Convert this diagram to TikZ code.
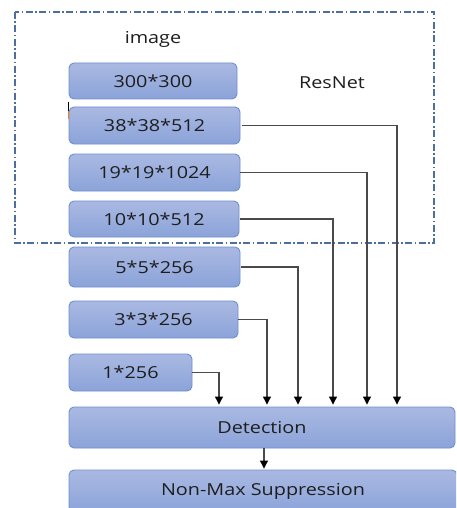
\documentclass[tikz,border=0pt]{standalone}
\usepackage{fontspec}
\setmainfont{Open Sans}[FakeStretch=1.2]
\usetikzlibrary{arrows.meta,calc}
\definecolor{boxtop}{HTML}{AAB9E2}
\definecolor{boxbot}{HTML}{8BA3D9}
\definecolor{boxline}{HTML}{6F8FD2}
\definecolor{dashc}{HTML}{4D6E9E}
\definecolor{linec}{HTML}{4A4A4A}
\definecolor{txt}{HTML}{1E1E1E}
\begin{document}
\begin{tikzpicture}[x=1pt,y=-1pt,
  layer/.style={draw=boxline, line width=0.9pt, rounded corners=5pt,
    top color=boxtop, bottom color=boxbot, text=txt,
    font=\fontsize{16.5}{19}\selectfont, inner sep=0pt, anchor=center},
  lbl/.style={text=txt, font=\fontsize{16.5}{19}\selectfont, inner sep=0pt},
  feed/.style={draw=linec, line width=1.1pt,
    -{Triangle[width=8pt,length=8pt,fill=black,color=black]}, shorten >=2pt}
]
\clip (0,0) rectangle (456,508);
\useasboundingbox (0,0) rectangle (456,508);
\fill[white] (0,0) rectangle (456,508);

% dashed ResNet frame
\draw[dashc, line width=1.2pt, dash pattern=on 7pt off 2.5pt on 1.5pt off 2.5pt] (15,12) rectangle (434,243);
\node[lbl] (img) at (153,39) {image};
\node[lbl] (res) at (332,83) {ResNet};

% layer boxes
\node[layer, minimum width=168pt, minimum height=36pt] (b300) at (153,81) {300*300};
\node[layer, minimum width=171pt, minimum height=37pt] (b38) at (154.5,125.5) {38*38*512};
\node[layer, minimum width=171pt, minimum height=37pt] (b19) at (154.5,172.5) {19*19*1024};
\node[layer, minimum width=170pt, minimum height=36pt] (b10) at (154,219) {10*10*512};
\node[layer, minimum width=171pt, minimum height=40pt] (b5) at (154.5,267) {5*5*256};
\node[layer, minimum width=169pt, minimum height=37pt] (b3) at (153.5,319.5) {3*3*256};
\node[layer, minimum width=123pt, minimum height=37pt] (b1) at (130.5,372.5) {1*256};
\node[layer, minimum width=386pt, minimum height=41pt] (det) at (262,427.5) {Detection};
\node[layer, minimum width=388pt, minimum height=42pt] (nms) at (263,491) {\raisebox{2pt}{Non-Max Suppression}};

% small mark at left of 38*38*512
\draw[black, line width=1.2pt] (68.5,102) -- (68.5,111);
\draw[orange!80!brown, line width=1.2pt] (68.5,111) -- (68.5,119);

% column coordinates
\coordinate (c38) at (397,0);
\coordinate (c19) at (367,0);
\coordinate (c10) at (333,0);
\coordinate (c5) at (298,0);
\coordinate (c3) at (267,0);
\coordinate (c1) at (219,0);
\coordinate (cd) at (264,0);

\draw[feed] ([xshift=2pt]b38.east) -| (c38 |- det.north);
\draw[feed] (b19.east) -| (c19 |- det.north);
\draw[feed] ([xshift=1pt]b10.east) -| (c10 |- det.north);
\draw[feed] ([xshift=1pt]b5.east) -| (c5 |- det.north);
\draw[feed] (b3.east) -| (c3 |- det.north);
\draw[feed] (b1.east) -| (c1 |- det.north);
\draw[feed, shorten >=1pt] (cd |- det.south) -- (cd |- nms.north);
\end{tikzpicture}
\end{document}
